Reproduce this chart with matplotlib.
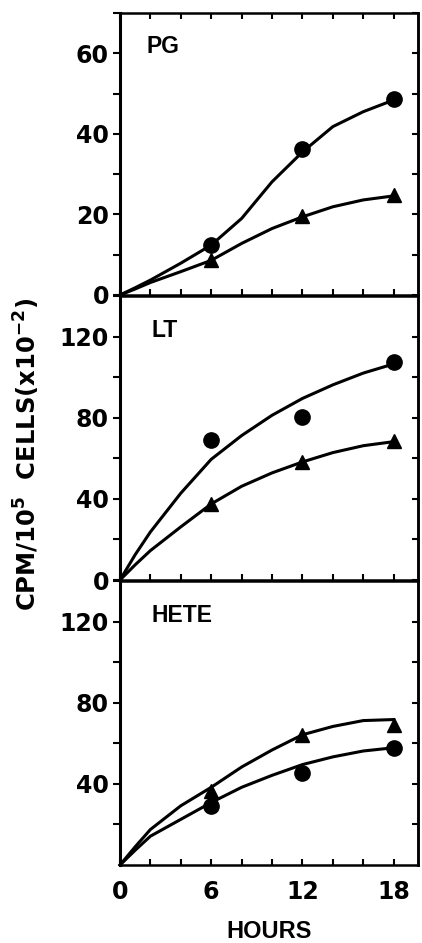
import matplotlib
matplotlib.use("Agg")
import matplotlib.pyplot as plt

plt.rcParams['font.family'] = ['Liberation Sans', 'DejaVu Sans']
plt.rcParams['font.weight'] = 'bold'
plt.rcParams['mathtext.fontset'] = 'custom'
plt.rcParams['mathtext.rm'] = 'DejaVu Sans:bold'
plt.rcParams['mathtext.bf'] = 'DejaVu Sans:bold'
plt.rcParams['mathtext.it'] = 'DejaVu Sans:bold'

hours = [6, 12, 18]
curve_hours = [0, 1, 2, 4, 6, 8, 10, 12, 14, 16, 18]

# PG panel
pg_circle = [12.4, 36.2, 48.6]
pg_triangle = [8.6, 19.6, 24.8]
pg_circle_curve = [0, 1.8, 3.7, 7.9, 12.4, 19.0, 28.1, 35.5, 41.8, 45.5, 48.4]
pg_triangle_curve = [0, 1.5, 3.1, 5.8, 8.6, 12.8, 16.5, 19.4, 21.9, 23.6, 24.6]

# LT panel
lt_circle = [69.0, 80.5, 107.5]
lt_triangle = [37.5, 58.2, 68.4]
lt_circle_curve = [0, 12.5, 23.7, 42.8, 59.5, 71.2, 81.2, 89.5, 96.2, 102.0, 106.5]
lt_triangle_curve = [0, 7.5, 14.5, 26.2, 37.5, 46.2, 52.8, 58.2, 62.8, 66.2, 68.2]

# HETE panel
hete_circle = [29.2, 45.5, 57.8]
hete_triangle = [36.7, 64.2, 69.2]
hete_circle_curve = [0, 7.3, 14.2, 22.5, 30.8, 38.3, 44.2, 49.5, 53.3, 56.2, 57.8]
hete_triangle_curve = [0, 9.0, 17.5, 29.2, 38.3, 48.3, 56.7, 64.2, 68.3, 71.2, 71.7]

panel_names = ["PG", "LT", "HETE"]
y_limits = [70, 140, 140]
y_ticks = [list(range(0, 71, 10)), list(range(0, 141, 20)), list(range(20, 141, 20))]
y_labels = [["0", "", "20", "", "40", "", "60", ""],
            ["0", "", "40", "", "80", "", "120", ""],
            ["", "40", "", "80", "", "120", ""]]
x_ticks = list(range(0, 19, 2))
x_labels = ["0", "", "", "6", "", "", "12", "", "", "18"]

series = [
    (pg_circle, pg_triangle, pg_circle_curve, pg_triangle_curve),
    (lt_circle, lt_triangle, lt_circle_curve, lt_triangle_curve),
    (hete_circle, hete_triangle, hete_circle_curve, hete_triangle_curve),
]

W, H = 422, 943
fig = plt.figure(figsize=(W / 100, H / 100), dpi=100)
left, width = 120 / W, 298 / W
edges = [(13, 295), (296, 580), (581, 865)]
tick_font = dict(family='DejaVu Sans', size=17, weight='bold')

for i, (top, bot) in enumerate(edges):
    ax = fig.add_axes([left, 1 - bot / H, width, (bot - top) / H])
    circ, tri, circ_c, tri_c = series[i]
    ax.plot(curve_hours, circ_c, color='black', lw=2.2, clip_on=False)
    ax.plot(curve_hours, tri_c, color='black', lw=2.2, clip_on=False)
    ax.plot(hours, circ, 'o', color='black', ms=11, clip_on=False)
    ax.plot(hours, tri, '^', color='black', ms=10, clip_on=False)

    ax.set_xlim(0, 19.6)
    ax.set_ylim(0, y_limits[i])
    ax.set_yticks(y_ticks[i])
    ax.set_yticklabels(y_labels[i], fontdict=tick_font)
    ax.tick_params(axis='y', direction='out', length=5, width=1.5, pad=3)
    ax.set_xticks(x_ticks)
    ax.tick_params(axis='x', direction='in', length=4, width=1.5,
                   top=(i == 0), pad=11)
    if i == 2:
        ax.set_xticklabels(x_labels, fontdict=tick_font)
        ax.set_xlabel("HOURS", fontsize=17, fontweight='bold', labelpad=11)
    else:
        ax.set_xticklabels([])
    for s in ax.spines.values():
        s.set_linewidth(1.8)
    ax.spines['left'].set_linewidth(2.2)

    sec = ax.secondary_yaxis('right')
    sec.set_yticks(y_ticks[i])
    sec.tick_params(direction='in', length=4, width=1.5, labelright=False)
    sec.spines['right'].set_linewidth(1.8)

    ax.text(0.09 if i == 0 else 0.105, 0.88, panel_names[i], transform=ax.transAxes,
            fontsize=16.5, fontweight='bold', ha='left', va='center')

fig.text(27 / W, 1 - 454 / H, r'CPM/10$^{5}$  CELLS(x10$^{-2}$)', rotation=90,
         fontsize=17.5, fontweight='bold', family='DejaVu Sans',
         ha='center', va='center')

fig.savefig("out.png", dpi=100)
